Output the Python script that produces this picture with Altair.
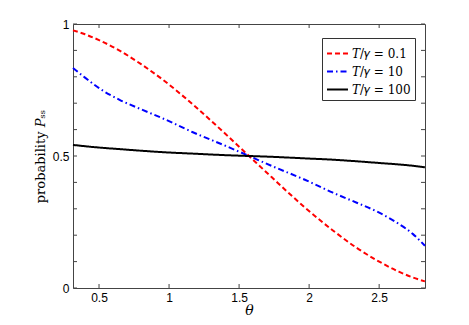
import altair as alt
import pandas as pd

theta = [0.314, 0.4, 0.5, 0.65, 0.8, 0.97, 1.17, 1.41, 1.571, 1.73, 1.97, 2.17, 2.34, 2.49, 2.64, 2.74, 2.827]
p_01 = [0.976, 0.961, 0.939, 0.898, 0.848, 0.783, 0.695, 0.580, 0.500, 0.421, 0.305, 0.218, 0.152, 0.103, 0.062, 0.040, 0.025]
p_10 = [0.833, 0.797, 0.757, 0.712, 0.677, 0.639, 0.590, 0.537, 0.500, 0.463, 0.410, 0.361, 0.323, 0.288, 0.243, 0.205, 0.160]
p_100 = [0.542, 0.537, 0.532, 0.526, 0.520, 0.514, 0.509, 0.503, 0.500, 0.497, 0.491, 0.486, 0.480, 0.474, 0.468, 0.463, 0.457]

series_names = ["𝑇/𝛾 = 0.1", "𝑇/𝛾 = 10", "𝑇/𝛾 = 100"]
series_colors = ["#ff0000", "#0000ff", "#000000"]
series_dashes = [[5, 3], [6, 3, 1.5, 3], [1, 0]]

x_ticks = [0.5, 1, 1.5, 2, 2.5]
y_ticks = [0, 0.1, 0.2, 0.3, 0.4, 0.5, 0.6, 0.7, 0.8, 0.9, 1.0]
y_labels = [0, 0.5, 1]

W, H = 352, 264

rows = []
for name, vals in zip(series_names, [p_01, p_10, p_100]):
    for t, v in zip(theta, vals):
        rows.append({"theta": t, "p": v, "series": name})
df = pd.DataFrame(rows)

xscale = alt.Scale(domain=[0.3142, 2.8274], nice=False, zero=False)
yscale = alt.Scale(domain=[0, 1], nice=False, zero=False)

xaxis = alt.Axis(values=x_ticks, format="~g", title="θ", ticks=False, domain=False,
                 grid=False, labelFont="Liberation Sans", labelFontSize=12,
                 labelColor="#000", labelPadding=4, titleFont="DejaVu Serif",
                 titleFontStyle="italic", titleFontWeight="normal", titleFontSize=14,
                 titlePadding=0, titleColor="#000")
yaxis = alt.Axis(values=y_labels, format="~g", title="probability 𝑃ₛₛ", ticks=False,
                 domain=False, grid=False, labelFont="Liberation Sans", labelFontSize=12,
                 labelColor="#000", labelPadding=4, titleFont="DejaVu Serif",
                 titleFontWeight="normal", titleFontSize=13, titlePadding=5,
                 titleColor="#000")

lines = alt.Chart(df).mark_line(strokeWidth=2, interpolate="monotone").encode(
    x=alt.X("theta:Q", scale=xscale, axis=xaxis),
    y=alt.Y("p:Q", scale=yscale, axis=yaxis),
    color=alt.Color("series:N", scale=alt.Scale(domain=series_names, range=series_colors),
                    sort=series_names, legend=alt.Legend(title=None)),
    strokeDash=alt.StrokeDash("series:N", scale=alt.Scale(domain=series_names, range=series_dashes),
                              sort=series_names, legend=alt.Legend(title=None)),
)

xt = pd.DataFrame({"xt": x_ticks})
yt = pd.DataFrame({"yt": y_ticks})

tick_style = dict(color="#444", strokeWidth=1)
left_ticks = alt.Chart(yt).mark_rule(**tick_style).encode(
    y=alt.Y("yt:Q", scale=yscale, axis=yaxis), x=alt.value(0), x2=alt.value(4))
right_ticks = alt.Chart(yt).mark_rule(**tick_style).encode(
    y=alt.Y("yt:Q", scale=yscale, axis=yaxis), x=alt.value(W - 4), x2=alt.value(W))
bottom_ticks = alt.Chart(xt).mark_rule(**tick_style).encode(
    x=alt.X("xt:Q", scale=xscale, axis=xaxis), y=alt.value(H), y2=alt.value(H - 4))
top_ticks = alt.Chart(xt).mark_rule(**tick_style).encode(
    x=alt.X("xt:Q", scale=xscale, axis=xaxis), y=alt.value(0), y2=alt.value(4))

chart = alt.layer(lines, left_ticks, right_ticks, bottom_ticks, top_ticks).properties(
    width=W, height=H,
    autosize=alt.AutoSizeParams(type="none"),
    padding={"left": 65, "top": 16, "right": 36, "bottom": 30},
).configure_view(
    stroke="#444", strokeWidth=1
).configure_legend(
    orient="none", legendX=249, legendY=14,
    strokeColor="#333", fillColor="#ffffff", padding=4, cornerRadius=0,
    symbolType="stroke", symbolSize=440, symbolStrokeWidth=2,
    labelFont="DejaVu Serif", labelFontSize=12, labelColor="#000", labelOffset=3,
    rowPadding=0, symbolOffset=0,
)

chart.save("out.html", embed_options={"renderer": "svg", "actions": False})
